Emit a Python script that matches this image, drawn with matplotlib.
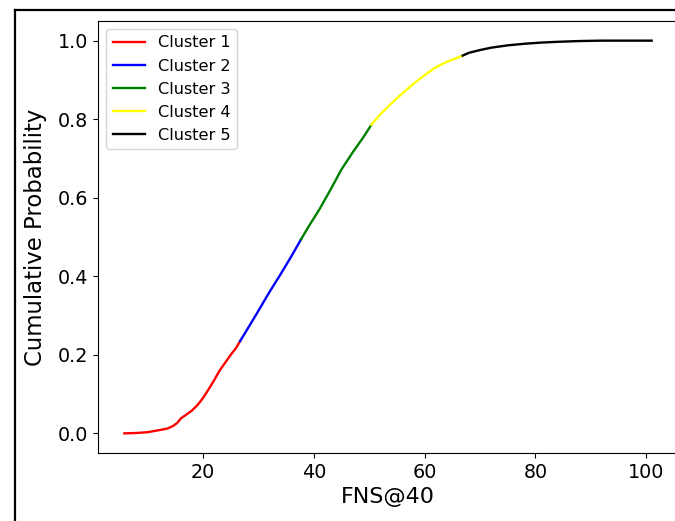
import matplotlib
matplotlib.use("Agg")
import matplotlib.pyplot as plt
from matplotlib.lines import Line2D

# valores, un tramo por cluster
c1_x = [5.8, 8, 10, 12, 13.5, 14.5, 15.3, 16, 17, 18, 19, 20, 21, 22, 23, 24, 25, 26, 26.7]
c1_y = [0.0, 0.001, 0.003, 0.008, 0.012, 0.018, 0.026, 0.038, 0.048, 0.058, 0.072,
        0.09, 0.112, 0.135, 0.16, 0.18, 0.2, 0.218, 0.235]

c2_x = [26.7, 28, 30, 32, 34, 36, 37.7]
c2_y = [0.235, 0.265, 0.312, 0.36, 0.405, 0.452, 0.494]

c3_x = [37.7, 39, 41, 43, 45, 47, 49, 50.4]
c3_y = [0.494, 0.525, 0.570, 0.62, 0.672, 0.715, 0.755, 0.786]

c4_x = [50.4, 52, 54, 56, 58, 60, 62, 64, 66, 66.9]
c4_y = [0.786, 0.812, 0.84, 0.866, 0.89, 0.912, 0.932, 0.946, 0.957, 0.962]

c5_x = [66.9, 68, 70, 72, 75, 78, 81, 84, 88, 92, 96, 101]
c5_y = [0.962, 0.969, 0.976, 0.982, 0.988, 0.992, 0.995, 0.997, 0.999, 1.0, 1.0, 1.0]

clusters = [(c1_x, c1_y, "red", "Cluster 1"),
            (c2_x, c2_y, "blue", "Cluster 2"),
            (c3_x, c3_y, "green", "Cluster 3"),
            (c4_x, c4_y, "yellow", "Cluster 4"),
            (c5_x, c5_y, "black", "Cluster 5")]


def grafico():
    fig = plt.figure(figsize=(6.75, 5.21), dpi=100)
    ax = fig.add_axes([98 / 675, 68 / 521, 580 / 675, 432 / 521])

    for xs, ys, color, label in clusters:
        ax.plot(xs, ys, color=color, linewidth=1.7, label=label)

    ax.set_xlabel("FNS@40", fontsize=16)
    ax.set_ylabel("Cumulative Probability", fontsize=16.4, labelpad=8)
    ax.tick_params(labelsize=13.8)
    ax.legend(loc="upper left", fontsize=11.6)

    # marco de la captura original
    fig.add_artist(Line2D([15 / 675, 15 / 675], [0, 1 - 10 / 521], color="black",
                          linewidth=1.6, transform=fig.transFigure))
    fig.add_artist(Line2D([15 / 675, 1], [1 - 10 / 521, 1 - 10 / 521], color="black",
                          linewidth=1.6, transform=fig.transFigure))

    fig.savefig("out.png", dpi=100)


if __name__ == "__main__":
    grafico()
